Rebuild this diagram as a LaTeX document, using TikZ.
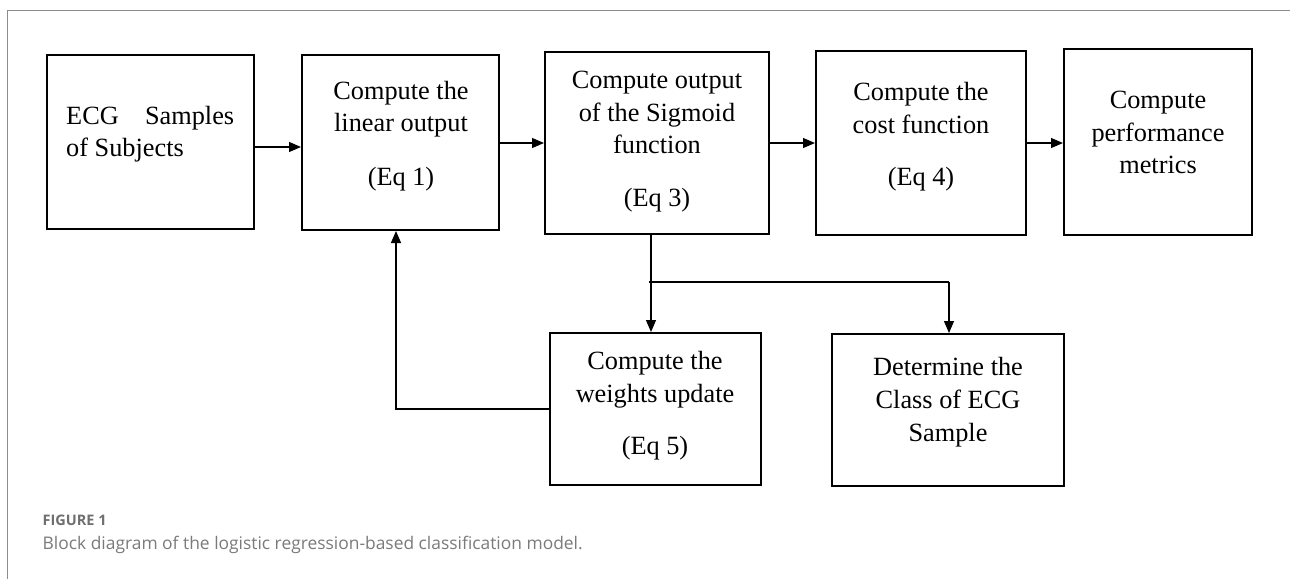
\documentclass[tikz,border=0pt]{standalone}
\usepackage{fontspec}
\setmainfont{Liberation Serif}
\newfontfamily\capfont{Open Sans}
\usetikzlibrary{arrows.meta}
\definecolor{framegray}{HTML}{8C8C8C}
\definecolor{capgray}{HTML}{7A7A7A}
\definecolor{figgray}{HTML}{6E6E6E}
\begin{document}
\begin{tikzpicture}[x=1pt,y=-1pt,
  box/.style={draw, line width=2pt, inner sep=0pt},
  txt/.style={anchor=base, inner sep=0pt, font=\fontsize{26.3}{32}\selectfont},
  txtl/.style={anchor=base west, inner sep=0pt, font=\fontsize{26.3}{32}\selectfont},
  arr/.style={line width=1.2pt, -{Triangle[length=12pt,width=10pt]}},
  ln/.style={line width=1.2pt}]
\useasboundingbox (0,0) rectangle (1290,579);
\draw[framegray, line width=1pt] (7,579) -- (7,10) -- (1290,10);
% boxes
\node[box, minimum width=207pt, minimum height=174pt] (b1) at (150.5,142) {};
\node[box, minimum width=197pt, minimum height=175pt] (b2) at (400.5,142.5) {};
\node[box, minimum width=224pt, minimum height=182pt] (b3) at (657,143) {};
\node[box, minimum width=210pt, minimum height=184pt] (b4) at (921,143) {};
\node[box, minimum width=188pt, minimum height=186pt] (b5) at (1158,142) {};
\node[box, minimum width=211pt, minimum height=152pt] (b6) at (655.5,409) {};
\node[box, minimum width=232pt, minimum height=152pt] (b7) at (948,410) {};
% texts
\node[txtl] (t1a) at (66,124) {\hbox to 168pt{ECG\hfill Samples}};
\node[txtl] (t1b) at (66,156) {of Subjects};
\node[txt] (t2a) at (401,99) {Compute the};
\node[txt] (t2b) at (401,131.5) {linear output};
\node[txt] (t2c) at (401,185) {(Eq 1)};
\node[txt] (t3a) at (657,88) {Compute output};
\node[txt] (t3b) at (657,121) {of the Sigmoid};
\node[txt] (t3c) at (657,153) {function};
\node[txt] (t3d) at (657,206.5) {(Eq 3)};
\node[txt] (t4a) at (921,100.5) {Compute the};
\node[txt] (t4b) at (921,133) {cost function};
\node[txt] (t4c) at (921,185.5) {(Eq 4)};
\node[txt] (t5a) at (1158,108) {Compute};
\node[txt] (t5b) at (1158,141) {performance};
\node[txt] (t5c) at (1158,173.5) {metrics};
\node[txt] (t6a) at (655,369) {Compute the};
\node[txt] (t6b) at (655,402.5) {weights update};
\node[txt] (t6c) at (655,454) {(Eq 5)};
\node[txt] (t7a) at (948,375.5) {Determine the};
\node[txt] (t7b) at (948,408.5) {Class of ECG};
\node[txt] (t7c) at (948,441) {Sample};
% connectors
\draw[arr] (b1.east |- 0,147) -- (b2.west |- 0,147);
\draw[arr] (b2.east |- 0,143) -- (b3.west |- 0,143);
\draw[arr] (b3.east |- 0,143) -- (b4.west |- 0,143);
\draw[arr] (b4.east |- 0,143) -- (b5.west |- 0,143);
\coordinate (j) at (651,282);
\coordinate (jl) at (649,282);
\coordinate (jr) at (949,282);
\draw[arr] (b3.south -| j) -- (b6.north -| j);
\draw[ln] (jl) -- (jr);
\draw[arr] (jr) -- (b7.north -| jr);
\coordinate (fb) at (396,409);
\draw[arr] (b6.west) -- (fb) -- (b2.south -| fb);
% caption
\node[anchor=base west, inner sep=0pt, text=figgray, font=\capfont\fontsize{14.5}{17}\selectfont\bfseries] (cap1) at (42.5,525.5) {FIGURE 1};
\node[anchor=base west, inner sep=0pt, text=capgray, font=\capfont\fontsize{17.4}{20}\selectfont] (cap2) at (42.5,549.5) {Block diagram of the logistic regression-based classification model.};
\end{tikzpicture}
\end{document}
